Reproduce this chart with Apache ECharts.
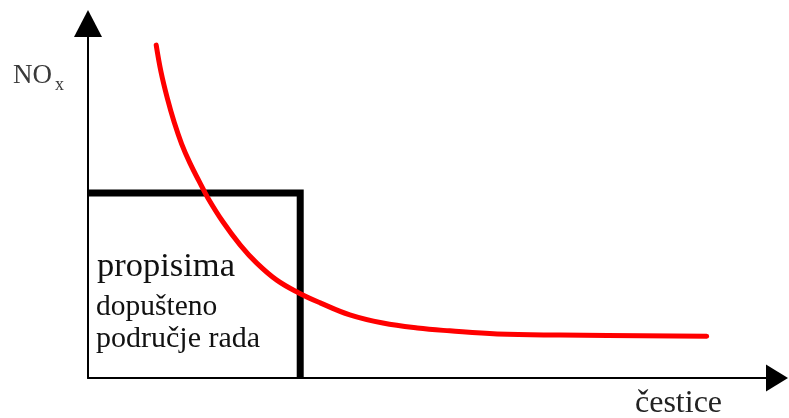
<!DOCTYPE html>
<html>
<head>
<meta charset="utf-8">
<script src="https://cdn.jsdelivr.net/npm/echarts@6/dist/echarts.min.js"></script>
<style>
html,body{margin:0;padding:0;background:#fff;}
#chart{width:789px;height:418px;}
</style>
</head>
<body>
<div id="chart"></div>
<script>
// Red curve (NOx vs particles), arbitrary units 0..100
var curveX = [9.9, 10.6, 11.5, 12.5, 13.6, 14.8, 16.1, 17.4, 19.6, 22.1, 24.5, 27.4, 30.6, 33.7, 38.0, 42.8, 47.8, 52.5, 59.4, 68.5, 89.8];
var curveY = [93.9, 86.3, 79.0, 72.2, 66.0, 60.6, 55.6, 50.8, 44.0, 37.5, 32.4, 27.6, 24.0, 21.2, 17.8, 15.5, 14.1, 13.3, 12.4, 12.1, 11.8];
// Permitted operating area (box) corners
var boxX = [0, 30.8, 30.8];
var boxY = [52.2, 52.2, 0];
// Texts
var yAxisLabel = 'NO';
var yAxisSub = 'x';
var xAxisLabel = 'čestice';
var boxLines = ['propisima', 'dopušteno', 'područje rada'];

function pairs(xs, ys) { return xs.map(function (x, i) { return [x, ys[i]]; }); }

var serif = '"Liberation Serif", "Times New Roman", serif';
var chart = echarts.init(document.getElementById('chart'), null, {renderer: 'canvas'});
chart.setOption({
  backgroundColor: '#fff',
  animation: false,
  grid: {left: 88, right: 12, top: 23.5, bottom: 40},
  xAxis: {
    type: 'value', min: 0, max: 100,
    axisLine: {show: true, symbol: ['none', 'triangle'], symbolSize: [27, 22], lineStyle: {color: '#000', width: 2}},
    axisTick: {show: false}, axisLabel: {show: false}, splitLine: {show: false}
  },
  yAxis: {
    type: 'value', min: 0, max: 100,
    axisLine: {show: true, symbol: ['none', 'triangle'], symbolSize: [28, 27], lineStyle: {color: '#000', width: 2}},
    axisTick: {show: false}, axisLabel: {show: false}, splitLine: {show: false}
  },
  series: [
    {
      type: 'line', data: pairs(boxX, boxY), showSymbol: false, clip: false, z: 2,
      lineStyle: {color: '#000', width: 7, join: 'miter', cap: 'butt'}
    },
    {
      type: 'line', data: pairs(curveX, curveY), showSymbol: false, clip: false, smooth: 0.4, z: 3,
      lineStyle: {color: '#ff0000', width: 5, cap: 'round', join: 'round'}
    }
  ],
  graphic: [
    {type: 'text', left: 13, top: 62, style: {text: yAxisLabel, font: '27px ' + serif, fill: '#3a3a3a'}},
    {type: 'text', left: 55, top: 76, style: {text: yAxisSub, font: '18px ' + serif, fill: '#3a3a3a'}},
    {type: 'text', left: 635, top: 388, style: {text: xAxisLabel, font: '32px ' + serif, fill: '#222'}},
    {type: 'text', left: 97, top: 249, style: {text: boxLines[0], font: '34.5px ' + serif, fill: '#111'}},
    {type: 'text', left: 96, top: 292, style: {text: boxLines[1], font: '29.5px ' + serif, fill: '#111'}},
    {type: 'text', left: 96, top: 324, style: {text: boxLines[2], font: '30px ' + serif, fill: '#111'}}
  ]
});
</script>
</body>
</html>
